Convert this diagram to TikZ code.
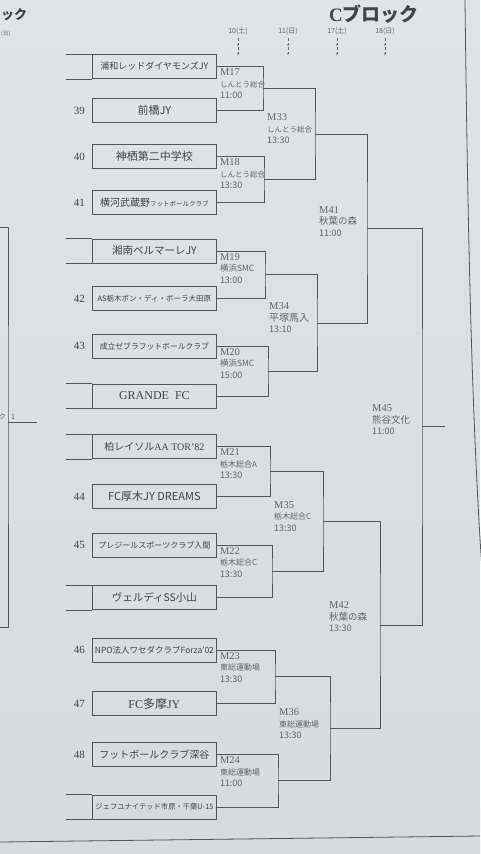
\documentclass[tikz,border=0pt]{standalone}
\usepackage{fontspec}
\setmainfont{Liberation Serif}
\newfontfamily\jp{Noto Sans CJK JP}
\usetikzlibrary{arrows.meta, positioning, calc}
\definecolor{paper}{RGB}{224,228,228}
\definecolor{paperlow}{RGB}{214,219,220}
\definecolor{ink}{RGB}{66,68,72}
\definecolor{rule}{RGB}{84,86,90}
\definecolor{soft}{RGB}{98,101,106}
\tikzset{every node/.append style={inner sep=0pt}}
\newcommand\match[4][8]{#2\\{\jp\fontsize{#1}{9}\selectfont #3}\\{\jp\fontsize{9}{10}\selectfont #4}}

\begin{document}
\begin{tikzpicture}[x=1pt, y=-1pt,
    team/.style={draw=rule, line width=0.8pt, minimum width=124pt, minimum height=24pt,
        anchor=west, text=ink, font=\jp\fontsize{9}{10}\selectfont},
    num/.style={text=ink, font=\fontsize{11}{12}\selectfont},
    mlab/.style={align=left, text=soft, font=\fontsize{10.5}{11.5}\selectfont},
    br/.style={draw=rule, line width=0.8pt},
    day/.style={text=soft, font=\jp\fontsize{7}{8}\selectfont},
    dayarr/.style={draw=soft, densely dashed, line width=0.4pt, -{To[length=2pt, width=2.5pt]}}
]
\shade[top color=paper, bottom color=paperlow] (0,0) rectangle (480,854);
\useasboundingbox (0,0) rectangle (480,854);

% heading
\node[text=ink, font=\fontsize{19}{20}\selectfont\bfseries] (title) at (374,14) {C{\jp ブロック}};
\node[text=ink, font=\jp\fontsize{13}{14}\selectfont\bfseries, anchor=west] (prev) at (1,15) {ック};
\node[day, font=\jp\fontsize{5.5}{6}\selectfont, anchor=west] (prevday) at (1,34) {(日)};
\node[day] (d10) at (238,31) {10(土)};
\node[day] (d11) at (288,31) {11(日)};
\node[day] (d17) at (337,31) {17(土)};
\node[day] (d18) at (385,31) {18(日)};
\foreach \d in {d10,d11,d17,d18} {
  \draw[dayarr] ($(\d.south)+(0,3)$) -- ++(0,8);
  \draw[dayarr] ($(\d.south)+(0,12)$) -- ++(0,8);
}

% teams
\node[team] (urawa) at (92,66.5) {浦和レッドダイヤモンズJY};
\node[team, font=\jp\fontsize{11}{12}\selectfont] (maeb) at (92,110.5) {前橋JY};
\node[team, font=\jp\fontsize{11}{12}\selectfont] (kamisu) at (92,156.5) {神栖第二中学校};
\node[team, font=\jp\fontsize{10}{12}\selectfont] (yoko) at (92,202.5) {横河武蔵野{\fontsize{6.5}{7}\selectfont フットボールクラブ}};
\node[team, font=\jp\fontsize{10.5}{12}\selectfont] (shonan) at (92,251) {湘南ベルマーレJY};
\node[team, font=\jp\fontsize{7.5}{9}\selectfont] (tochi) at (92,298.5) {AS栃木ポン・ディ・ボーラ大田原};
\node[team, font=\jp\fontsize{7.8}{9}\selectfont] (seiri) at (92,346) {成立ゼブラフットボールクラブ};
\node[team, font=\fontsize{12}{13}\selectfont] (grande) at (92,396) {GRANDE\ \ FC};
\node[team, font=\jp\fontsize{10}{12}\selectfont] (kashiwa) at (92,446.5) {柏レイソル{\rmfamily AA TOR’82}};
\node[team, font=\jp\fontsize{11}{12}\selectfont] (atsugi) at (92,496.5) {FC厚木JY DREAMS};
\node[team, font=\jp\fontsize{8}{9}\selectfont] (plaisir) at (92,545) {プレジールスポーツクラブ入間};
\node[team, font=\jp\fontsize{10.5}{12}\selectfont] (verdy) at (92,597.5) {ヴェルディSS小山};
\node[team, font=\jp\fontsize{8.5}{10}\selectfont] (waseda) at (92,650) {NPO法人ワセダクラブForza’02};
\node[team, font=\fontsize{12}{13}\selectfont] (tama) at (92,703.5) {FC{\jp 多摩}JY};
\node[team, font=\jp\fontsize{10}{12}\selectfont] (fukaya) at (92,754.5) {フットボールクラブ深谷};
\node[team, font=\jp\fontsize{7.3}{9}\selectfont] (jef) at (92,807) {ジェフユナイテッド市原・千葉U-15};

\node[num, left=7pt of maeb] (n39) {39};
\node[num, left=7pt of kamisu] (n40) {40};
\node[num, left=7pt of yoko] (n41) {41};
\node[num, left=7pt of tochi] (n42) {42};
\node[num, left=7pt of seiri] (n43) {43};
\node[num, left=7pt of atsugi] (n44) {44};
\node[num, left=7pt of plaisir] (n45) {45};
\node[num, left=7pt of waseda] (n46) {46};
\node[num, left=7pt of tama] (n47) {47};
\node[num, left=7pt of fukaya] (n48) {48};

% seeded slots
\foreach \s in {urawa,shonan,grande,kashiwa,verdy,jef} {
  \draw[br] (\s.north west) -- ++(-26,0);
  \draw[br] (\s.south west) -- ++(-26,0);
}

% match points
\coordinate (m17) at (263,88.5);
\coordinate (m18) at (264,179.5);
\coordinate (m19) at (265,274.8);
\coordinate (m20) at (268,371);
\coordinate (m21) at (270,471.5);
\coordinate (m22) at (272,571.3);
\coordinate (m23) at (275,676.8);
\coordinate (m24) at (278,780.8);
\coordinate (m33) at (315,134);
\coordinate (m34) at (317,322.9);
\coordinate (m35) at (323,521.4);
\coordinate (m36) at (330,728.8);
\coordinate (m41) at (367,228.4);
\coordinate (m42) at (380,625);
\coordinate (m45) at (422,426.7);
\coordinate (win) at (445,426.7);

% brackets
\draw[br] (urawa.east) -| (m17) |- (maeb.east);
\draw[br] (kamisu.east) -| (m18) |- (yoko.east);
\draw[br] (shonan.east) -| (m19) |- (tochi.east);
\draw[br] (seiri.east) -| (m20) |- (grande.east);
\draw[br] (kashiwa.east) -| (m21) |- (atsugi.east);
\draw[br] (plaisir.east) -| (m22) |- (verdy.east);
\draw[br] (waseda.east) -| (m23) |- (tama.east);
\draw[br] (fukaya.east) -| (m24) |- (jef.east);
\draw[br] (m17) -| (m33) |- (m18);
\draw[br] (m19) -| (m34) |- (m20);
\draw[br] (m21) -| (m35) |- (m22);
\draw[br] (m23) -| (m36) |- (m24);
\draw[br] (m33) -| (m41) |- (m34);
\draw[br] (m35) -| (m42) |- (m36);
\draw[br] (m41) -| (m45) |- (m42);
\draw[br] (m45) -- (win);

% match labels
\node[mlab, below right=2pt and 3pt of urawa.east] (l17) {\match[7.5]{M17}{しんとう総合}{11:00}};
\node[mlab, below right=2pt and 3pt of kamisu.east] (l18) {\match[7.5]{M18}{しんとう総合}{13:30}};
\node[mlab, below right=2pt and 3pt of shonan.east] (l19) {\match[8.5]{M19}{横浜SMC}{13:00}};
\node[mlab, below right=2pt and 3pt of seiri.east] (l20) {\match[8.5]{M20}{横浜SMC}{15:00}};
\node[mlab, below right=2pt and 3pt of kashiwa.east] (l21) {\match{M21}{栃木総合A}{13:30}};
\node[mlab, below right=2pt and 3pt of plaisir.east] (l22) {\match{M22}{栃木総合C}{13:30}};
\node[mlab, below right=2pt and 3pt of waseda.east] (l23) {\match{M23}{東総運動場}{13:30}};
\node[mlab, below right=2pt and 3pt of fukaya.east] (l24) {\match{M24}{東総運動場}{11:00}};
\node[mlab, anchor=west] (l33) at ($(m17 |- m33)+(4,-5)$) {\match[7.5]{M33}{しんとう総合}{13:30}};
\node[mlab, anchor=west] (l34) at ($(m19 |- m34)+(4,-5)$) {\match[10]{M34}{平塚馬入}{13:10}};
\node[mlab, anchor=west] (l35) at ($(m21 |- m35)+(4,-5)$) {\match{M35}{栃木総合C}{13:30}};
\node[mlab, anchor=west] (l36) at ($(m23 |- m36)+(4,-5)$) {\match{M36}{東総運動場}{13:30}};
\node[mlab, anchor=west] (l41) at ($(m33 |- m41)+(4,-7)$) {\match[9.5]{M41}{秋葉の森}{11:00}};
\node[mlab, anchor=west] (l42) at ($(m35 |- m42)+(6,-8)$) {\match[9.5]{M42}{秋葉の森}{13:30}};
\node[mlab, anchor=west] (l45) at ($(m41 |- m45)+(5,-7)$) {\match[9.5]{M45}{熊谷文化}{11:00}};

% neighbouring block and page edges
\coordinate (pa) at (0,227);
\coordinate (pb) at (0,627);
\coordinate (pj) at (8,422);
\coordinate (pw) at (37,422);
\draw[br] (pa) -| (pj) |- (pb);
\draw[br] (pj) -- (pw);
\node[day, anchor=south east] (pk) at (6,420) {ク};
\node[day, anchor=south west] (p1) at (11,420) {1};
\draw[br] (465,0) .. controls (468,250) and (472,420) .. (482,570);
\draw[br] (0,842) -- (480,836);
\end{tikzpicture}
\end{document}
